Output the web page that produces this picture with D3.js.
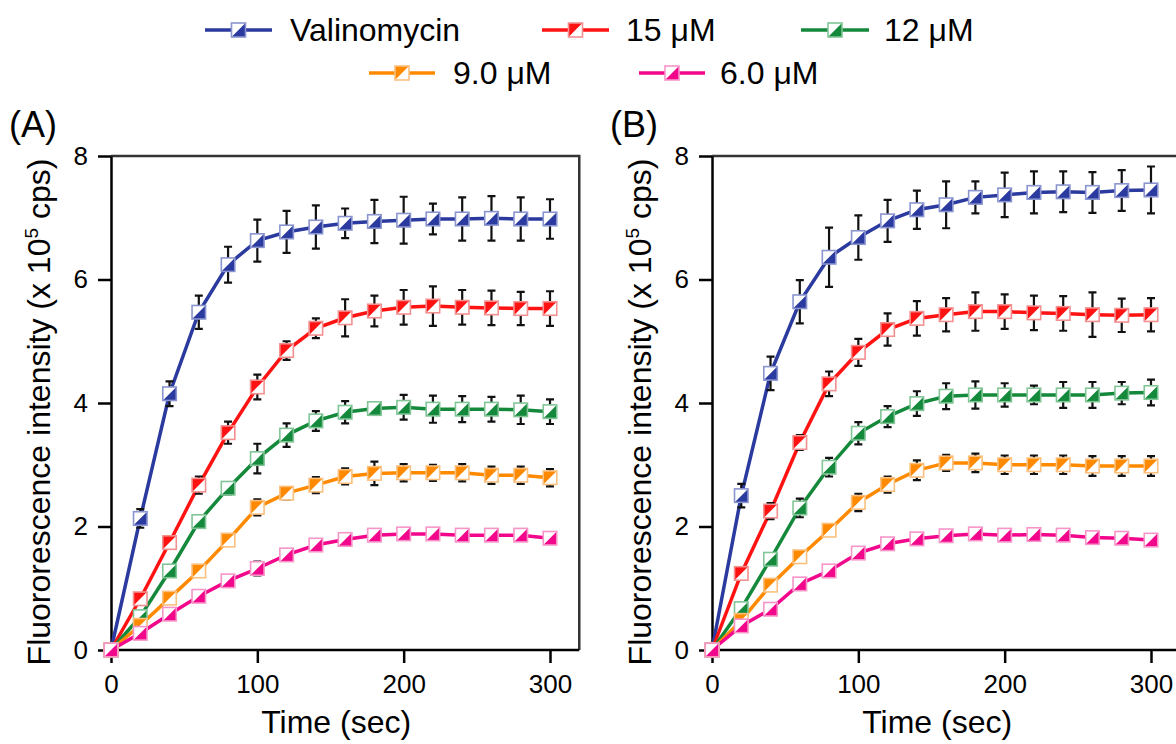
<!DOCTYPE html>
<html>
<head>
<meta charset="utf-8">
<script src="https://cdn.jsdelivr.net/npm/d3@7"></script>
<style>
  body { margin: 0; background: #fff; }
  svg { display: block; }
  text { font-family: Arial, "Liberation Sans", Helvetica, sans-serif; fill: #000; }
</style>
</head>
<body>
<svg id="chart" width="1176" height="744"></svg>
<script>
// time points (sec)
var times = [0, 20, 40, 60, 80, 100, 120, 140, 160, 180, 200, 220, 240, 260, 280, 300];

var seriesNames = ['Valinomycin', '15 μM', '12 μM', '9.0 μM', '6.0 μM'];
var yTicks = [0, 2, 4, 6, 8];
var xTicks = [0, 100, 200, 300];

// panel A means / errors (x 10^5 cps)
var valinoA = [0, 2.13, 4.15, 5.47, 6.24, 6.63, 6.77, 6.85, 6.91, 6.94, 6.96, 6.98, 6.98, 6.99, 6.98, 6.98];
var valinoErrA = [0, 0.15, 0.2, 0.27, 0.29, 0.34, 0.34, 0.35, 0.24, 0.35, 0.38, 0.25, 0.35, 0.36, 0.35, 0.32];
var uM15A = [0, 0.83, 1.74, 2.67, 3.52, 4.26, 4.85, 5.21, 5.38, 5.49, 5.55, 5.57, 5.55, 5.54, 5.53, 5.53];
var uM15ErrA = [0, 0.06, 0.06, 0.14, 0.18, 0.2, 0.15, 0.16, 0.3, 0.25, 0.28, 0.32, 0.28, 0.28, 0.27, 0.28];
var uM12A = [0, 0.54, 1.28, 2.08, 2.62, 3.1, 3.48, 3.71, 3.85, 3.91, 3.93, 3.9, 3.9, 3.9, 3.89, 3.86];
var uM12ErrA = [0, 0.05, 0.05, 0.1, 0.1, 0.24, 0.19, 0.16, 0.18, 0.1, 0.2, 0.22, 0.21, 0.2, 0.23, 0.2];
var uM9A = [0, 0.4, 0.84, 1.28, 1.78, 2.31, 2.54, 2.67, 2.81, 2.86, 2.87, 2.87, 2.87, 2.83, 2.83, 2.79];
var uM9ErrA = [0, 0.04, 0.04, 0.05, 0.06, 0.13, 0.1, 0.13, 0.13, 0.19, 0.14, 0.13, 0.14, 0.14, 0.14, 0.14];
var uM6A = [0, 0.27, 0.58, 0.87, 1.12, 1.32, 1.54, 1.7, 1.79, 1.86, 1.88, 1.88, 1.86, 1.86, 1.86, 1.81];
var uM6ErrA = [0, 0.03, 0.04, 0.04, 0.05, 0.11, 0.04, 0.06, 0.05, 0.06, 0.05, 0.05, 0.07, 0.06, 0.05, 0.05];

// panel B means / errors
var valinoB = [0, 2.5, 4.48, 5.64, 6.36, 6.68, 6.95, 7.13, 7.21, 7.33, 7.37, 7.41, 7.42, 7.41, 7.44, 7.45];
var valinoErrB = [0, 0.19, 0.27, 0.35, 0.48, 0.36, 0.34, 0.31, 0.38, 0.26, 0.36, 0.34, 0.33, 0.33, 0.33, 0.38];
var uM15B = [0, 1.24, 2.25, 3.36, 4.31, 4.82, 5.19, 5.37, 5.43, 5.48, 5.48, 5.46, 5.45, 5.43, 5.42, 5.43];
var uM15ErrB = [0, 0.08, 0.13, 0.12, 0.2, 0.22, 0.26, 0.28, 0.27, 0.31, 0.28, 0.28, 0.28, 0.36, 0.27, 0.27];
var uM12B = [0, 0.67, 1.47, 2.3, 2.96, 3.51, 3.78, 3.99, 4.11, 4.13, 4.13, 4.13, 4.13, 4.13, 4.16, 4.17];
var uM12ErrB = [0, 0.05, 0.08, 0.15, 0.15, 0.18, 0.17, 0.2, 0.21, 0.22, 0.19, 0.15, 0.21, 0.21, 0.18, 0.21];
var uM9B = [0, 0.48, 1.05, 1.51, 1.94, 2.39, 2.68, 2.91, 3.03, 3.03, 3.0, 3.0, 3.0, 2.98, 2.98, 2.98];
var uM9ErrB = [0, 0.04, 0.04, 0.05, 0.08, 0.14, 0.13, 0.16, 0.13, 0.15, 0.15, 0.15, 0.15, 0.16, 0.16, 0.16];
var uM6B = [0, 0.39, 0.66, 1.07, 1.28, 1.57, 1.72, 1.8, 1.85, 1.88, 1.86, 1.87, 1.86, 1.82, 1.81, 1.78];
var uM6ErrB = [0, 0.03, 0.04, 0.05, 0.05, 0.05, 0.05, 0.05, 0.06, 0.06, 0.06, 0.05, 0.05, 0.05, 0.06, 0.05];

var palette = [
  { line: '#2b3a9e', edge: '#8a95d0', half: 'lower' },
  { line: '#ff1212', edge: '#f39090', half: 'upper' },
  { line: '#14893b', edge: '#82c597', half: 'lower' },
  { line: '#ff8a00', edge: '#fbc07e', half: 'upper' },
  { line: '#f2078c', edge: '#f795c9', half: 'lower' }
];

var svg = d3.select('#chart');

// square split along the bottom-left/top-right diagonal
var drawMarker = function(g, cx, cy, s, style) {
  var h = s / 2;
  var m = g.append('g').attr('transform', 'translate(' + cx + ',' + cy + ')');
  m.append('rect').attr('x', -h).attr('y', -h).attr('width', s).attr('height', s).attr('fill', '#fff');
  var tri = style.half === 'lower'
    ? 'M' + (-h) + ',' + h + 'L' + h + ',' + (-h) + 'L' + h + ',' + h + 'Z'
    : 'M' + (-h) + ',' + h + 'L' + (-h) + ',' + (-h) + 'L' + h + ',' + (-h) + 'Z';
  m.append('path').attr('d', tri).attr('fill', style.line);
  m.append('rect').attr('x', -h).attr('y', -h).attr('width', s).attr('height', s)
    .attr('fill', 'none').attr('stroke', style.edge).attr('stroke-width', 1.6);
};

var drawPanel = function(opts) {
  var x = d3.scaleLinear().domain([0, 300]).range([opts.left, opts.left + 439]);
  var y = d3.scaleLinear().domain([0, 8]).range([650, 156]);
  var g = svg.append('g');

  // frame (top/right)
  g.append('path')
    .attr('d', 'M' + x(0) + ',' + y(8) + 'H' + x(320) + 'V' + y(0))
    .attr('fill', 'none').attr('stroke', '#333').attr('stroke-width', 2.5);

  var yAxis = g.append('g')
    .attr('transform', 'translate(' + x(0) + ',0)')
    .call(d3.axisLeft(y).tickValues(yTicks).tickSizeOuter(0).tickSizeInner(13).tickPadding(10));
  var xAxis = g.append('g')
    .attr('transform', 'translate(0,' + y(0) + ')')
    .call(d3.axisBottom(x).tickValues(xTicks).tickSizeOuter(0).tickSizeInner(13).tickPadding(12));
  [xAxis, yAxis].forEach(function(a) {
    a.select('.domain').attr('stroke', '#000').attr('stroke-width', 2.5);
    a.selectAll('.tick line').attr('stroke', '#000').attr('stroke-width', 2.5);
    a.selectAll('.tick text').attr('font-size', 26).attr('font-family', 'Arial, "Liberation Sans", sans-serif').attr('fill', '#000');
  });
  xAxis.select('.domain').attr('d', 'M' + x(0) + ',0H' + x(320));

  var line = d3.line()
    .x(function(d) { return x(d.t); })
    .y(function(d) { return y(d.v); });

  opts.series.forEach(function(s, idx) {
    var data = times.map(function(t, i) { return { t: t, v: s.v[i], e: s.e[i] }; });
    g.append('path').datum(data)
      .attr('d', line).attr('fill', 'none')
      .attr('stroke', palette[idx].line).attr('stroke-width', 3.5);
  });

  opts.series.forEach(function(s, idx) {
    var data = times.map(function(t, i) { return { t: t, v: s.v[i], e: s.e[i] }; });
    data.filter(function(d) { return d.e > 0; }).forEach(function(d) {
      var cx = x(d.t), y1 = y(d.v + d.e), y2 = y(d.v - d.e);
      g.append('path')
        .attr('d', 'M' + cx + ',' + y1 + 'V' + y2 + 'M' + (cx - 4) + ',' + y1 + 'H' + (cx + 4) + 'M' + (cx - 4) + ',' + y2 + 'H' + (cx + 4))
        .attr('fill', 'none').attr('stroke', '#111').attr('stroke-width', 2.2);
    });
    data.forEach(function(d) { drawMarker(g, x(d.t), y(d.v), 13.5, palette[idx]); });
  });

  // axis titles
  g.append('text')
    .attr('x', (x(0) + x(320)) / 2 - 9).attr('y', 733)
    .attr('text-anchor', 'middle').attr('font-size', 32)
    .text('Time (sec)');

  var yl = g.append('text')
    .attr('transform', 'translate(' + (opts.left - 61) + ',412) rotate(-90)')
    .attr('text-anchor', 'middle').attr('font-size', 32);
  yl.append('tspan').text('Fluororescence intensity (x 10');
  yl.append('tspan').attr('font-size', 19).attr('dy', -12).text('5');
  yl.append('tspan').attr('dy', 12).text(' cps)');

  g.append('text')
    .attr('x', opts.left - 102).attr('y', 137)
    .attr('font-size', 36)
    .text(opts.label);
};

drawPanel({
  left: 111,
  label: '(A)',
  series: [
    { v: valinoA, e: valinoErrA },
    { v: uM15A, e: uM15ErrA },
    { v: uM12A, e: uM12ErrA },
    { v: uM9A, e: uM9ErrA },
    { v: uM6A, e: uM6ErrA }
  ]
});

drawPanel({
  left: 712,
  label: '(B)',
  series: [
    { v: valinoB, e: valinoErrB },
    { v: uM15B, e: uM15ErrB },
    { v: uM12B, e: uM12ErrB },
    { v: uM9B, e: uM9ErrB },
    { v: uM6B, e: uM6ErrB }
  ]
});

// legend
var legendPos = [
  { x1: 205, x2: 272, tx: 290, y: 30 },
  { x1: 542, x2: 609, tx: 626, y: 30 },
  { x1: 801, x2: 869, tx: 884, y: 30 },
  { x1: 369, x2: 435, tx: 453, y: 73 },
  { x1: 639, x2: 705, tx: 720, y: 73 }
];
var legend = svg.append('g');
seriesNames.forEach(function(name, idx) {
  var p = legendPos[idx];
  legend.append('line')
    .attr('x1', p.x1).attr('x2', p.x2).attr('y1', p.y).attr('y2', p.y)
    .attr('stroke', palette[idx].line).attr('stroke-width', 3.5);
  drawMarker(legend, (p.x1 + p.x2) / 2, p.y, 14, palette[idx]);
  legend.append('text')
    .attr('x', p.tx).attr('y', p.y + 11)
    .attr('font-size', 32)
    .text(name);
});
</script>
</body>
</html>
